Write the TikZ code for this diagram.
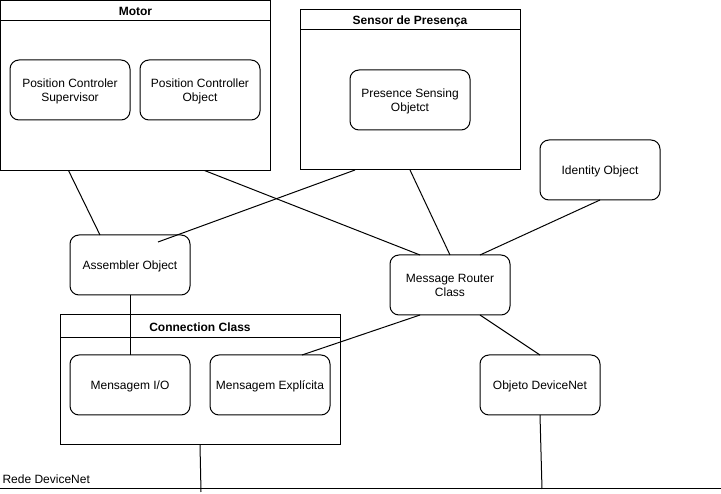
\documentclass[tikz,border=0pt]{standalone}
\usepackage{fontspec}
\setmainfont{Liberation Sans}
\usetikzlibrary{calc}
\begin{document}
\begin{tikzpicture}[x=1pt,y=-1pt,line width=1pt,
  obj/.style={draw,rounded corners=9pt,minimum width=120pt,minimum height=60pt,align=center,
    font=\fontsize{12}{14}\selectfont,anchor=north west,inner sep=0pt,outer sep=0pt,fill=white,text depth=0pt},
  cont/.style={draw,anchor=north west,inner sep=0pt,outer sep=0pt,fill=white},
  ttl/.style={font=\bfseries\fontsize{12}{14}\selectfont,inner sep=0pt},
  lbl/.style={font=\fontsize{12}{14}\selectfont,inner sep=0pt}]
\useasboundingbox (0,0) rectangle (721,494);
% containers
\node[cont,minimum width=270pt,minimum height=170pt] (motor) at (0.5,0.5) {};
\draw ($(motor.north west)+(0,20)$) -- ($(motor.north east)+(0,20)$);
\node[ttl] (motort) at ($(motor.north)+(0,11)$) {Motor};
\node[cont,minimum width=220pt,minimum height=160pt] (sensor) at (300,10) {};
\draw ($(sensor.north west)+(0,20)$) -- ($(sensor.north east)+(0,20)$);
\node[ttl] (sensort) at ($(sensor.north)+(0,11)$) {Sensor de Presença};
\node[cont,minimum width=280pt,minimum height=130pt] (conn) at (60,315) {};
\draw ($(conn.north west)+(0,23)$) -- ($(conn.north east)+(0,23)$);
\node[ttl] (connt) at ($(conn.north)+(0,12)$) {Connection Class};
% objects
\node[obj] (pcs) at (10,60) {Position Controler\\Supervisor};
\node[obj] (pco) at (140,60) {Position Controller\\Object};
\node[obj] (pso) at (350,70) {Presence Sensing\\Objetct};
\node[obj] (ident) at (540,140) {Identity Object};
\node[obj] (asm) at (70,235) {Assembler Object};
\node[obj] (mr) at (390,255) {Message Router\\Class};
\node[obj] (mio) at (70,355) {Mensagem I/O};
\node[obj] (mexp) at (210,355) {Mensagem Explícita};
\node[obj] (odn) at (480,355) {Objeto DeviceNet};
% bus
\coordinate (busL) at (0,489);
\coordinate (busR) at (721,489);
\coordinate (tap1) at (201,492);
\coordinate (tap2) at (542,489);
\draw (busL) -- (busR);
\node[lbl,anchor=west] (rede) at (2,479) {Rede DeviceNet};
% connectors
\draw ($(motor.south west)+(68,0)$) -- ($(asm.north west)+(30,0)$);
\draw ($(motor.south west)+(204,0)$) -- ($(mr.north west)+(30,0)$);
\draw ($(sensor.south west)+(55,0)$) -- ($(asm.north west)+(88,7)$);
\draw ($(sensor.south west)+(110,0)$) -- (mr.north);
\draw (ident.south) -- ($(mr.north west)+(90,0)$);
\draw ($(mr.south west)+(30,0)$) -- ($(mexp.north west)+(92,0)$);
\draw ($(mr.south west)+(90,0)$) -- (odn.north);
\draw (asm.south) -- (mio.north);
\draw ($(conn.south west)+(140,0)$) -- (tap1);
\draw (odn.south) -- (tap2);
\end{tikzpicture}
\end{document}
